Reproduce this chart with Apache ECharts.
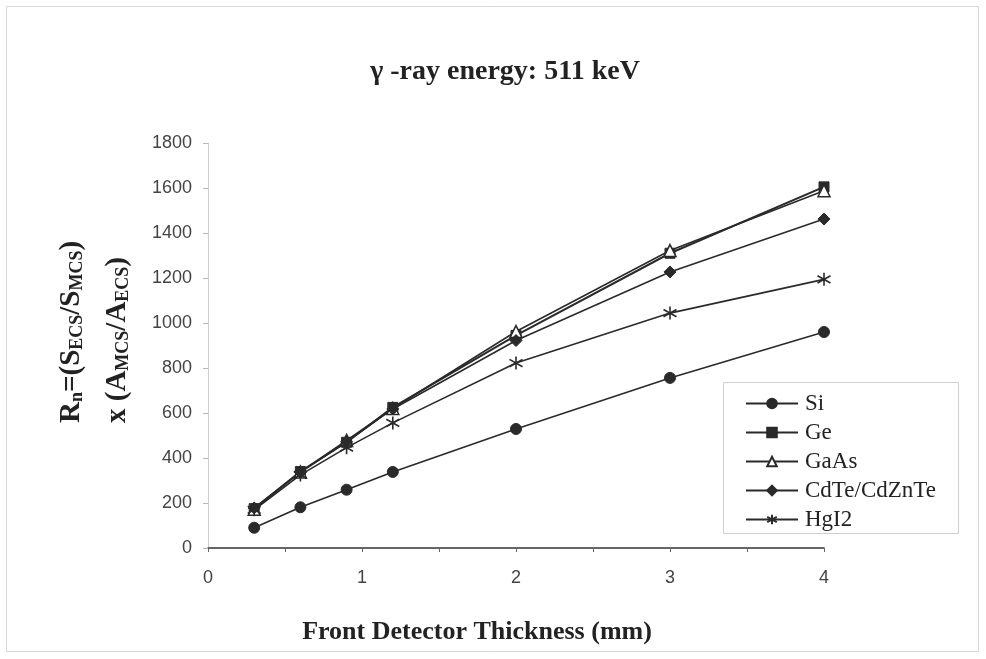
<!DOCTYPE html>
<html><head><meta charset="utf-8">
<script src="https://cdn.jsdelivr.net/npm/echarts@6/dist/echarts.min.js"></script>
<style>html,body{margin:0;padding:0;background:#fff}#c{width:986px;height:659px}</style>
</head><body><div id="c"></div>
<script>
const thickness = [0.3, 0.6, 0.9, 1.2, 2, 3, 4];
const si   = [90, 181, 259, 338, 529, 756, 960];
const ge   = [175, 340, 470, 625, 945, 1310, 1605];
const gaas = [172, 338, 478, 620, 962, 1322, 1588];
const cdte = [178, 336, 472, 618, 922, 1227, 1462];
const hgi2 = [170, 325, 446, 556, 822, 1044, 1194];
const seriesNames = ['Si', 'Ge', 'GaAs', 'CdTe/CdZnTe', 'HgI2'];
const xTicks = [0, 1, 2, 3, 4];
const yTicks = [0, 200, 400, 600, 800, 1000, 1200, 1400, 1600, 1800];

const pair = arr => thickness.map((x, i) => [x, arr[i]]);
const dark = '#2a2a2a';
const star = 'path://M5,0 L5,10 M0.8,2.2 L9.2,7.8 M9.2,2.2 L0.8,7.8';
const serif = '"Liberation Serif","Times New Roman",serif';
const sans = '"Liberation Sans",Arial,sans-serif';

function mk(name, data, symbol, size, extra) {
  return Object.assign({
    name: name, type: 'line', data: pair(data), symbol: symbol, symbolSize: size,
    lineStyle: { color: dark, width: 1.6 },
    itemStyle: { color: dark, borderColor: dark, borderWidth: 1 },
    emphasis: { disabled: true }
  }, extra || {});
}

const chart = echarts.init(document.getElementById('c'), null, { renderer: 'canvas' });
chart.setOption({
  backgroundColor: '#fff',
  animation: false,
  title: {
    text: '\u03b3 -ray energy: 511 keV', left: 500, textAlign: 'center', top: 53,
    textStyle: { fontFamily: serif, fontSize: 28, fontWeight: 'bold', color: '#222' }
  },
  grid: { left: 208, top: 143, width: 616, height: 405, containLabel: false },
  xAxis: {
    type: 'value', min: 0, max: 4, interval: 0.5,
    axisLine: { show: true, onZero: false, lineStyle: { color: '#333', width: 1.5 } },
    axisTick: { show: true, length: 4, lineStyle: { color: '#666' } },
    axisLabel: {
      margin: 21, fontFamily: sans, fontSize: 18, color: '#444',
      formatter: v => (xTicks.indexOf(v) >= 0 ? String(v) : '')
    },
    splitLine: { show: false }
  },
  yAxis: {
    type: 'value', min: 0, max: 1800, interval: 200,
    axisLine: { show: true, lineStyle: { color: '#cfcfcf', width: 1 } },
    axisTick: { show: true, length: 5, lineStyle: { color: '#bbb' } },
    axisLabel: {
      margin: 16, fontFamily: sans, fontSize: 18, color: '#444',
      formatter: v => (yTicks.indexOf(v) >= 0 ? String(v) : '')
    },
    splitLine: { show: false }
  },
  legend: {
    orient: 'vertical', left: 740, top: 387, itemWidth: 52, itemHeight: 12, itemGap: 6,
    data: seriesNames,
    textStyle: { fontFamily: serif, fontSize: 23, lineHeight: 22, color: '#222', padding: [0, 0, 0, 2] },
    selectedMode: false
  },
  graphic: [
    { type: 'rect', shape: { x: 6.5, y: 6.5, width: 972, height: 645 }, style: { fill: 'none', stroke: '#d8d8d8', lineWidth: 1 }, silent: true },
    { type: 'rect', shape: { x: 723.5, y: 382.5, width: 235, height: 151 }, style: { fill: '#fff', stroke: '#cfcfcf', lineWidth: 1 }, z: -1, silent: true },
    {
      type: 'text', style: {
        x: 477, y: 632, text: 'Front Detector Thickness (mm)', textAlign: 'center', textVerticalAlign: 'middle',
        font: 'bold 26px ' + serif, fill: '#222'
      }, silent: true
    },
    {
      type: 'text', x: 72, y: 423, rotation: Math.PI / 2,
      style: {
        text: '{b|R}{s|n}{b|=(S}{s|ECS}{b|/S}{s|MCS}{b|)}',
        textAlign: 'left', textVerticalAlign: 'middle',
        rich: {
          b: { fontFamily: serif, fontSize: 29, fontWeight: 'bold', fill: '#222' },
          s: { fontFamily: serif, fontSize: 18, fontWeight: 'bold', fill: '#222', verticalAlign: 'bottom' }
        }
      }, silent: true
    },
    {
      type: 'text', x: 118, y: 423, rotation: Math.PI / 2,
      style: {
        text: '{b|x (A}{s|MCS}{b|/A}{s|ECS}{b|)}',
        textAlign: 'left', textVerticalAlign: 'middle',
        rich: {
          b: { fontFamily: serif, fontSize: 29, fontWeight: 'bold', fill: '#222' },
          s: { fontFamily: serif, fontSize: 18, fontWeight: 'bold', fill: '#222', verticalAlign: 'bottom' }
        }
      }, silent: true
    }
  ],
  series: [
    mk('Si', si, 'circle', 11),
    mk('Ge', ge, 'rect', 10, { lineStyle: { color: dark, width: 2 } }),
    mk('GaAs', gaas, 'triangle', 12, { itemStyle: { color: '#fff', borderColor: dark, borderWidth: 1.5 } }),
    mk('CdTe/CdZnTe', cdte, 'diamond', 12),
    mk('HgI2', hgi2, star, 13, { itemStyle: { color: 'none', borderColor: dark, borderWidth: 1.6 } })
  ]
});
</script></body></html>
